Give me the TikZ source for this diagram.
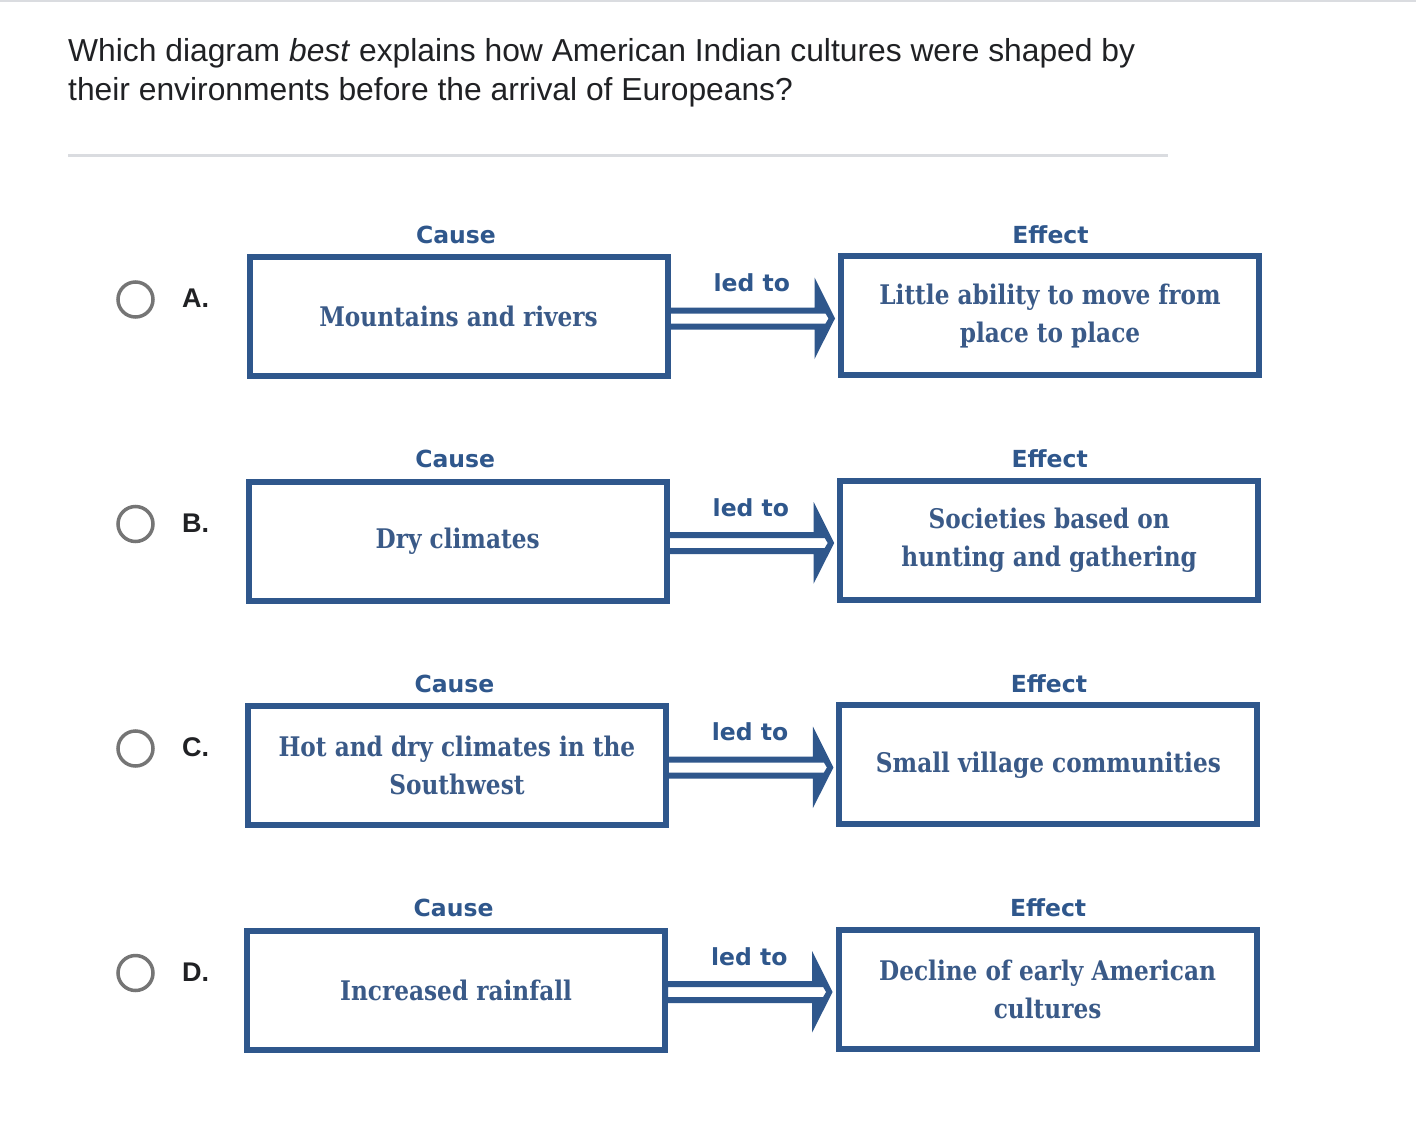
\documentclass[tikz,border=0pt]{standalone}
\usepackage{fontspec}
\setmainfont{Liberation Sans}
\newfontfamily\slabfont[FakeStretch=0.86]{DejaVu Serif}
\newfontfamily\labfont{DejaVu Sans}
\usetikzlibrary{calc}
\definecolor{boxblue}{HTML}{2F578C}
\definecolor{txtblue}{HTML}{3A5A88}
\definecolor{ink}{HTML}{202124}
\definecolor{rulegray}{HTML}{DADCE0}
\definecolor{radiogray}{HTML}{757575}
\begin{document}
\begin{tikzpicture}[x=1pt,y=-1pt,
  cebox/.style={draw=boxblue, line width=6pt, minimum width=418pt, minimum height=119pt,
    inner sep=0pt, align=center, text=txtblue,
    font=\slabfont\bfseries\fontsize{27}{38}\selectfont},
  headlab/.style={text=boxblue, inner sep=0pt, anchor=base,
    font=\labfont\bfseries\fontsize{23.5}{30}\selectfont},
  optlab/.style={text=ink, inner sep=0pt, anchor=base west,
    font=\bfseries\fontsize{27}{30}\selectfont},
  radiobtn/.style={draw=radiogray, line width=3.5pt, circle, minimum size=35pt, inner sep=0pt},
  titlelab/.style={text=ink, inner sep=0pt, anchor=base west, font=\fontsize{31.8}{38}\selectfont}
]
\useasboundingbox (0,0) rectangle (1416,1132);
\fill[white] (0,0) rectangle (1416,1132);
% top rule and separator
\fill[rulegray] (0,0) rectangle (1416,2.5);
\node[titlelab] (t1) at (68,61.5) {Which diagram \textit{best} explains how American Indian cultures were shaped by};
\node[titlelab] (t2) at (68,100) {their environments before the arrival of Europeans?};
\fill[rulegray] (68,154) rectangle (1168,156.5);

\foreach \i/\L/\ctext/\etext in {
  0/A/{Mountains and rivers}/{Little ability to move from\\place to place},
  1/B/{Dry climates}/{Societies based on\\hunting and gathering},
  2/C/{Hot and dry climates in the\\Southwest}/{Small village communities},
  3/D/{Increased rainfall}/{Decline of early American\\cultures}}{
  \pgfmathsetmacro{\dy}{224.5*\i}
  \pgfmathsetmacro{\dx}{-0.8*\i}
  \node[radiobtn] (r\L) at (135.5,299.5+\dy) {};
  \node[optlab] (o\L) at (182,307.5+\dy) {\L.};
  \node[cebox] (c\L) at (458.5+\dx,316.75+\dy) {\ctext};
  \node[cebox] (e\L) at (1050+\dx,315.75+\dy) {\etext};
  \node[headlab] (hc\L) at (456+\dx,243.3+\dy) {Cause};
  \node[headlab] (he\L) at (1050.5+\dx,243.3+\dy) {Effect};
  \node[headlab] (hl\L) at (751.7+\dx,291.5+\dy) {led to};
  \fill[boxblue, even odd rule] let \p1=(c\L.east), \p2=(e\L.west) in
    (\x1,\y1+9.25pt) -- (\x2-23.5pt,\y1+9.25pt) -- (\x2-23.5pt,\y1+39.25pt)
    -- (\x2-3pt,\y1-1.75pt) -- (\x2-23.5pt,\y1-42.25pt) -- (\x2-23.5pt,\y1-12.75pt)
    -- (\x1,\y1-12.75pt) -- cycle
    (\x1,\y1+3.25pt) -- (\x2-12.5pt,\y1+3.25pt) -- (\x2-9.5pt,\y1-1.75pt)
    -- (\x2-12.5pt,\y1-6.75pt) -- (\x1,\y1-6.75pt) -- cycle;
}
\end{tikzpicture}
\end{document}
